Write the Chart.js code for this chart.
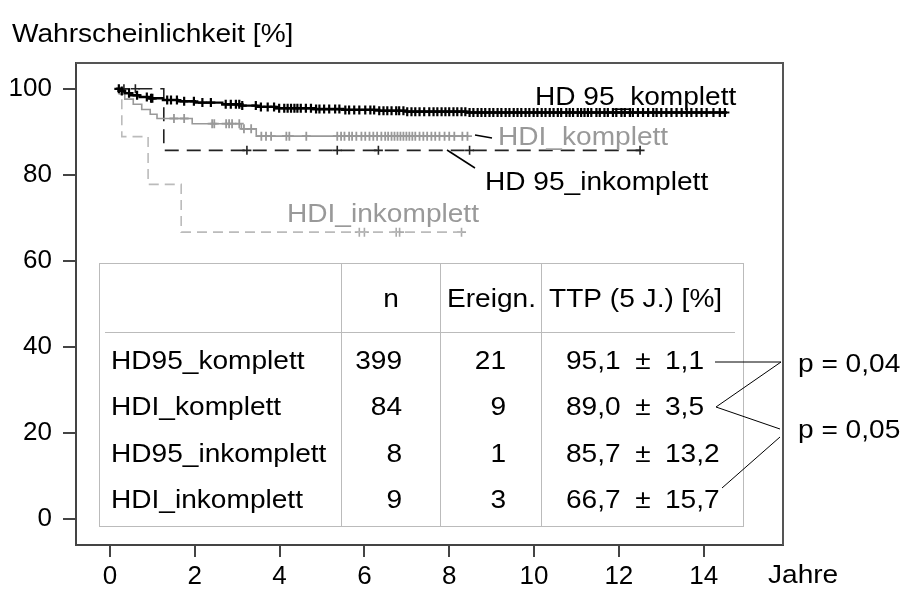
<!DOCTYPE html>
<html>
<head>
<meta charset="utf-8">
<script src="https://cdn.jsdelivr.net/npm/chart.js@4"></script>
<style>
  body { margin: 0; background: #fff; }
  #km-chart { display: block; }
</style>
</head>
<body>
<canvas id="km-chart" width="904" height="591"></canvas>
<script>
// Kaplan-Meier curves: step times [Jahre] and survival [%]
const hd95KomplettT = [0.15, 0.25, 0.35, 0.5, 0.7, 0.95, 1.25, 1.6, 2.0, 2.65, 3.1, 3.45, 3.9, 4.8, 5.5, 6.35, 7.0, 8.4, 14.55];
const hd95KomplettS = [100, 99.5, 99.0, 98.5, 98.1, 97.8, 97.4, 97.1, 96.8, 96.4, 96.1, 95.8, 95.5, 95.3, 95.1, 94.9, 94.7, 94.5, 94.5];
const hdiKomplettT = [0.15, 0.22, 0.35, 0.55, 0.75, 0.95, 1.11, 1.94, 3.1, 3.45, 8.45];
const hdiKomplettS = [100, 98.8, 97.6, 96.4, 95.2, 94.1, 93.1, 91.9, 90.7, 89.0, 89.0];
const hd95InkomplettT = [0.15, 1.27, 12.5];
const hd95InkomplettS = [100, 85.7, 85.7];
const hdiInkomplettT = [0.15, 0.28, 0.9, 1.68, 8.3];
const hdiInkomplettS = [100, 88.9, 77.8, 66.7, 66.7];

// censored patients (times)
const hd95KomplettCens = [0.21, 0.28, 0.45, 0.64, 0.87, 0.97, 1.0, 1.35, 1.44, 1.58, 1.75, 1.98,
  2.18, 2.38, 2.73, 2.85, 2.97, 3.05, 3.12, 3.44, 3.56, 3.72, 3.87, 3.99, 4.11, 4.19, 4.27, 4.35,
  4.42, 4.5, 4.62, 4.74, 4.86, 4.94, 5.05, 5.17, 5.31, 5.41, 5.55, 5.64, 5.76, 5.88, 6.02, 6.14,
  6.23, 6.35, 6.45, 6.54, 6.64, 6.75, 6.82, 6.92, 7.01, 7.11, 7.2, 7.3, 7.41, 7.53, 7.63, 7.72,
  7.82, 7.91, 8.0, 8.1, 8.19, 8.29, 8.38, 8.48, 8.57, 8.67, 8.76, 8.85, 8.95, 9.04, 9.14, 9.23,
  9.33, 9.42, 9.52, 9.61, 9.7, 9.8, 9.89, 9.99, 10.08, 10.18, 10.27, 10.37, 10.46, 10.56, 10.64,
  10.76, 10.84, 10.92, 11.03, 11.11, 11.19, 11.27, 11.35, 11.47, 11.55, 11.66, 11.74, 11.86,
  11.94, 12.06, 12.14, 12.26, 12.33, 12.45, 12.57, 12.69, 12.81, 12.89, 13.0, 13.12, 13.24,
  13.36, 13.48, 13.6, 13.71, 13.83, 13.95, 14.07, 14.23, 14.38, 14.5];
const hdiKomplettCens = [1.51, 1.75, 2.41, 2.46, 2.74, 2.81, 2.88, 3.05, 3.16, 3.33, 3.57, 3.68,
  3.8, 4.16, 4.23, 4.63, 5.36, 5.45, 5.53, 5.64, 5.71, 5.81, 5.93, 6.02, 6.12, 6.21, 6.3, 6.4,
  6.49, 6.56, 6.64, 6.71, 6.78, 6.85, 6.92, 6.99, 7.06, 7.13, 7.2, 7.3, 7.39, 7.48, 7.58, 7.67,
  7.77, 7.89, 8.0, 8.12, 8.31, 8.43];
const hd95InkomplettCens = [0.33, 0.6, 3.23, 5.36, 6.33, 8.48, 12.5];
const hdiInkomplettCens = [5.88, 6.0, 6.75, 6.83, 8.29];

// table values
const groupNames = ['HD95_komplett', 'HDI_komplett', 'HD95_inkomplett', 'HDI_inkomplett'];
const nPatients = [399, 84, 8, 9];
const nEvents = [21, 9, 1, 3];
const ttp5 = [95.1, 89.0, 85.7, 66.7];
const ttp5Se = [1.1, 3.5, 13.2, 15.7];
const pValues = [0.04, 0.05];

const xTicks = [0, 2, 4, 6, 8, 10, 12, 14];
const yTicks = [0, 20, 40, 60, 80, 100];

const FONT = '"Liberation Sans", Arial, sans-serif';
const SX = 1.08; // text is drawn a bit wider than the plain font

function steps(ts, ss) {
  return ts.map((t, i) => ({ x: t, y: ss[i] }));
}
// censor marks sit on the curve at their time
function censMarks(times, ts, ss) {
  return times.map(t => {
    let y = ss[0];
    for (let i = 0; i < ts.length; i++) if (ts[i] <= t) y = ss[i];
    return { x: t, y };
  });
}
const comma = v => v.toFixed(1).replace('.', ',');

function txt(ctx, s, x, y, align, color) {
  ctx.save();
  ctx.translate(x, y);
  ctx.scale(SX, 1);
  ctx.textAlign = align || 'left';
  ctx.textBaseline = 'alphabetic';
  ctx.fillStyle = color || '#000';
  ctx.fillText(s, 0, 0);
  ctx.restore();
}
function line(ctx, pts, color, w) {
  ctx.beginPath();
  ctx.moveTo(pts[0][0], pts[0][1]);
  for (let i = 1; i < pts.length; i++) ctx.lineTo(pts[i][0], pts[i][1]);
  ctx.strokeStyle = color;
  ctx.lineWidth = w;
  ctx.stroke();
}

const extras = {
  id: 'extras',
  afterDatasetsDraw(chart) {
    const { ctx, chartArea: a } = chart;
    ctx.save();
    // top and right side of the frame
    line(ctx, [[a.left, a.top], [a.right, a.top], [a.right, a.bottom]], '#555', 2);

    ctx.font = '26px ' + FONT;
    txt(ctx, 'Wahrscheinlichkeit [%]', 12, 42);
    txt(ctx, 'Jahre', 768, 583);

    // curve labels
    txt(ctx, 'HD 95_komplett', 535, 105, 'left', '#000');
    txt(ctx, 'HDI_komplett', 498, 145, 'left', '#999');
    txt(ctx, 'HD 95_inkomplett', 485, 190, 'left', '#000');
    txt(ctx, 'HDI_inkomplett', 287, 222, 'left', '#999');
    line(ctx, [[475, 135], [492, 138]], '#000', 1.5);
    line(ctx, [[447, 150], [475, 168]], '#000', 1.5);

    // table
    const tl = 99, tr = 743, tt = 263, tb = 526;
    const cols = [341, 440, 541];
    ctx.strokeStyle = '#bbb';
    ctx.lineWidth = 1;
    ctx.strokeRect(tl + 0.5, tt + 0.5, tr - tl, tb - tt);
    line(ctx, [[105, 332.5], [735, 332.5]], '#bbb', 1);
    cols.forEach(c => line(ctx, [[c + 0.5, tt], [c + 0.5, tb]], '#bbb', 1));

    txt(ctx, 'n', 391, 307, 'center');
    txt(ctx, 'Ereign.', 447, 307);
    txt(ctx, 'TTP (5 J.) [%]', 549, 307);
    const rowY = [369, 415, 462, 508];
    groupNames.forEach((g, i) => {
      const y = rowY[i];
      txt(ctx, g, 111, y);
      txt(ctx, String(nPatients[i]), 402, y, 'right');
      txt(ctx, String(nEvents[i]), 506, y, 'right');
      txt(ctx, comma(ttp5[i]), 566, y);
      txt(ctx, '\u00b1', 643, y, 'center');
      txt(ctx, comma(ttp5Se[i]), 665, y);
    });

    // p-values with connectors
    line(ctx, [[715, 362], [781, 362], [716, 407], [780, 429]], '#000', 1);
    line(ctx, [[780, 437], [722, 488]], '#000', 1);
    txt(ctx, 'p = ' + pValues[0].toFixed(2).replace('.', ','), 798, 372);
    txt(ctx, 'p = ' + pValues[1].toFixed(2).replace('.', ','), 798, 438);
    ctx.restore();
  }
};

// 'before' in Chart.js: run level to the next time, then drop
const curve = (data, color, width, dash, order) => ({
  type: 'line', data, borderColor: color, borderWidth: width, borderDash: dash,
  stepped: 'before', pointRadius: 0, fill: false, order
});
const marks = (data, color, width, order) => ({
  type: 'scatter', data, showLine: false, pointStyle: 'cross', pointRadius: 4.5,
  borderColor: color, pointBorderWidth: width, borderWidth: width, order
});

new Chart(document.getElementById('km-chart'), {
  type: 'line',
  data: {
    datasets: [
      curve(steps(hd95KomplettT, hd95KomplettS), '#000', 2.4, [], 0),
      marks(censMarks(hd95KomplettCens, hd95KomplettT, hd95KomplettS), '#000', 2.2, 1),
      curve(steps(hdiKomplettT, hdiKomplettS), '#999', 1.6, [], 2),
      marks(censMarks(hdiKomplettCens, hdiKomplettT, hdiKomplettS), '#999', 1.8, 3),
      curve(steps(hd95InkomplettT, hd95InkomplettS), '#222', 1.6, [14, 8], 4),
      marks(censMarks(hd95InkomplettCens, hd95InkomplettT, hd95InkomplettS), '#222', 1.6, 5),
      curve(steps(hdiInkomplettT, hdiInkomplettS), '#bbb', 1.6, [10, 6], 6),
      marks(censMarks(hdiInkomplettCens, hdiInkomplettT, hdiInkomplettS), '#aaa', 1.6, 7)
    ]
  },
  options: {
    responsive: false,
    animation: false,
    layout: { padding: { top: 63, right: 121, left: 0, bottom: 0 } },
    plugins: { legend: { display: false }, tooltip: { enabled: false } },
    scales: {
      x: {
        type: 'linear', min: -0.8, max: 15.87,
        afterBuildTicks: s => { s.ticks = xTicks.map(v => ({ value: v })); },
        afterFit: s => { s.height = 46; },
        grid: { drawOnChartArea: false, tickLength: 12, color: '#444', lineWidth: 2 },
        border: { color: '#444', width: 2 },
        ticks: { color: '#000', font: { size: 26, family: FONT }, padding: 4, maxRotation: 0 }
      },
      y: {
        type: 'linear', min: -6, max: 106,
        afterBuildTicks: s => { s.ticks = yTicks.map(v => ({ value: v })); },
        afterFit: s => { s.width = 76; },
        grid: { drawOnChartArea: false, tickLength: 13, color: '#444', lineWidth: 2 },
        border: { color: '#444', width: 2 },
        ticks: { color: '#000', font: { size: 26, family: FONT }, padding: 11 }
      }
    }
  },
  plugins: [extras]
});
</script>
</body>
</html>
